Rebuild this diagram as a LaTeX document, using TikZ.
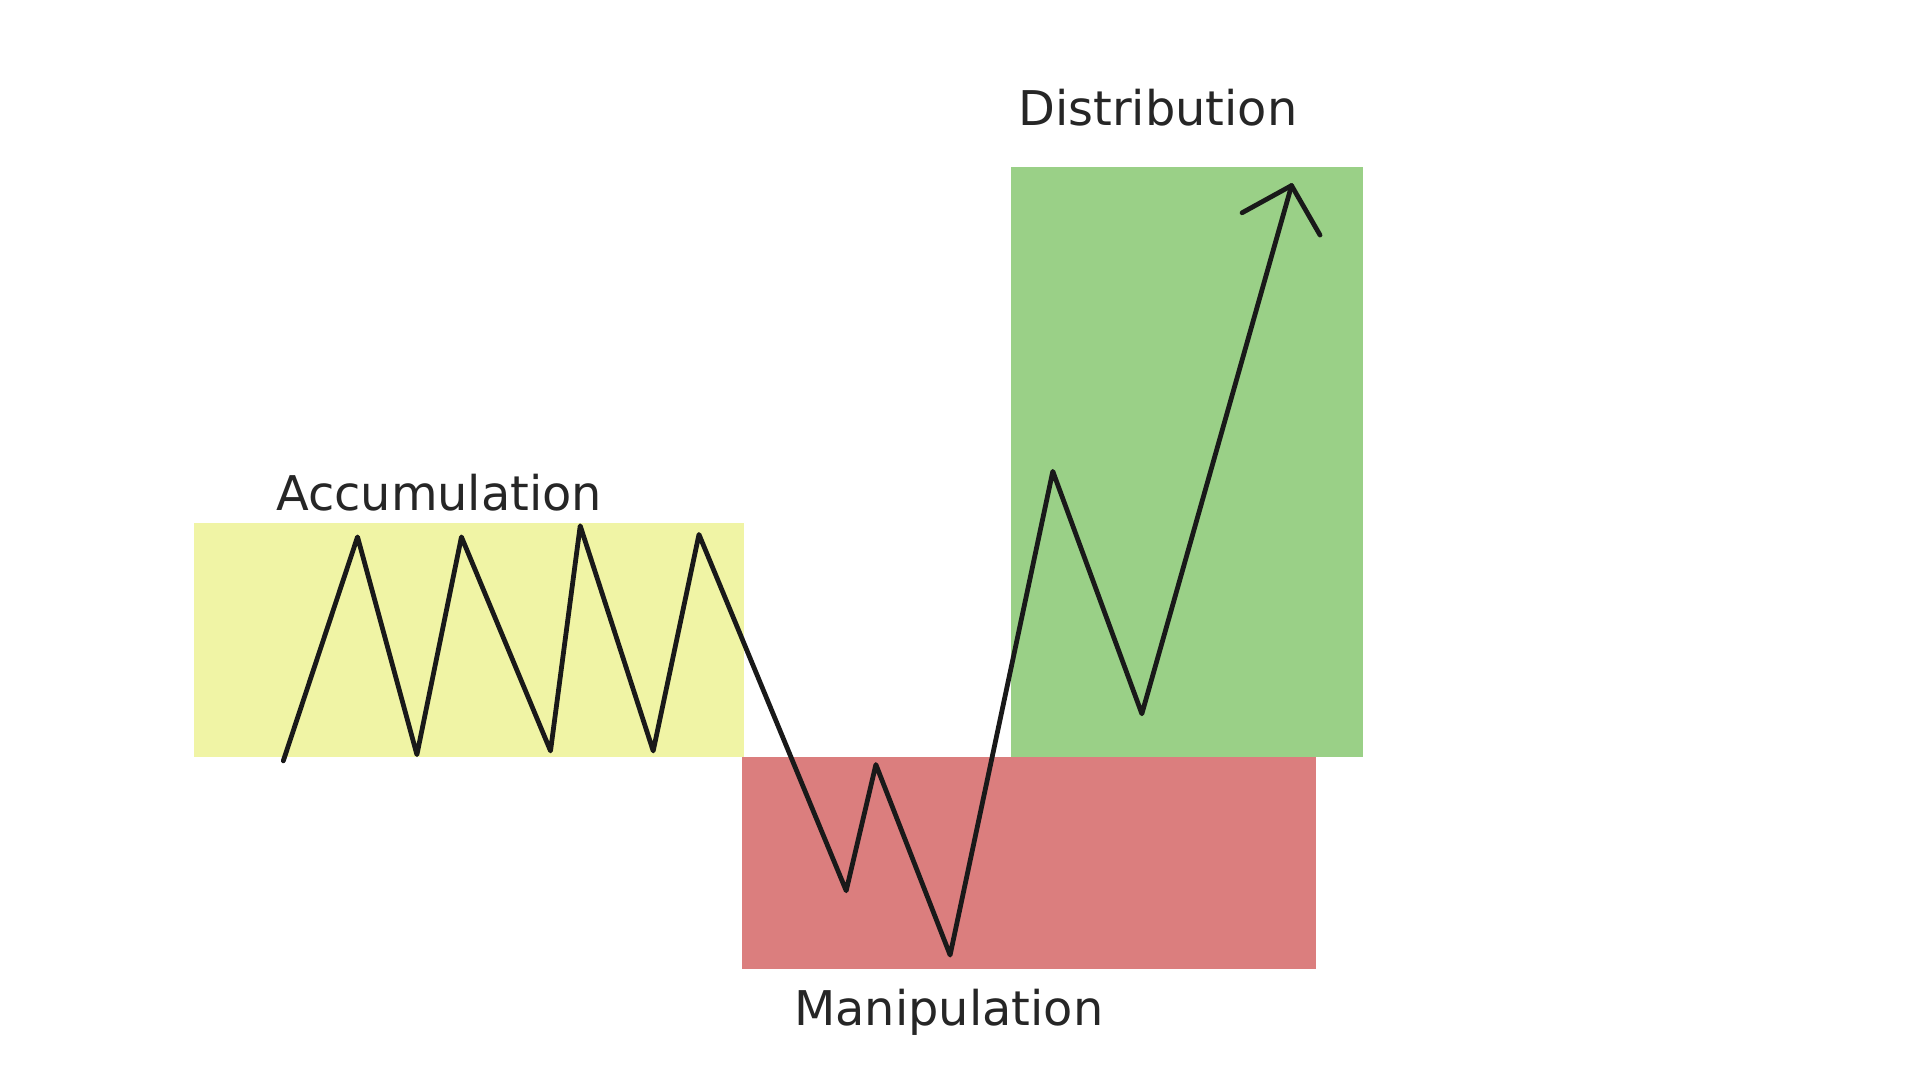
\documentclass[tikz,border=0pt]{standalone}
\usepackage{fontspec}
\setmainfont{DejaVu Sans}
\begin{document}
\begin{tikzpicture}[x=0.01cm,y=-0.01cm,
  zone/.style={draw=none},
  lbl/.style={font=\fontsize{11}{13}\selectfont, text=black!85},
  pricepath/.style={line width=1.1pt, black!90, line join=round, line cap=round}]
\useasboundingbox (0,0) rectangle (1552,873);
\fill[color={rgb,255:red,240;green,244;blue,165}] (157,423) rectangle (601,612);
\fill[color={rgb,255:red,219;green,126;blue,126}] (600,612) rectangle (1064,783);
\fill[color={rgb,255:red,154;green,208;blue,135}] (817,135) rectangle (1102,612);
\node[lbl] (acc) at (355,398) {Accumulation};
\node[lbl] (dist) at (936,87) {Distribution};
\node[lbl] (man) at (767,818) {Manipulation};
\coordinate (p0) at (229,615);
\coordinate (tip) at (1044,150);
\draw[pricepath] (p0) -- (289,434) -- (337,610) -- (373,434) -- (445,607) -- (469,425) -- (528,607) -- (565,432) -- (684,720) -- (708,618) -- (768,772) -- (851,381) -- (923,577) -- (tip);
\draw[pricepath] (1004,172) -- (tip) -- (1067,190);
\end{tikzpicture}
\end{document}
